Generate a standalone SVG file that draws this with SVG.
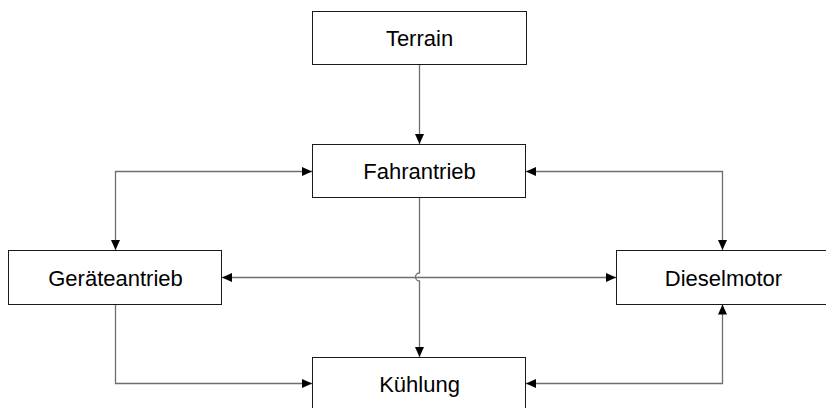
<svg xmlns="http://www.w3.org/2000/svg" width="826" height="408" viewBox="0 0 826 408">
  <style>
    .box { fill: #ffffff; stroke: #1a1a1a; stroke-width: 1; }
    .label { font-family: "Liberation Sans", Arial, sans-serif; font-size: 22px; fill: #000000; text-anchor: middle; }
    .wire { fill: none; stroke: #6e6e6e; stroke-width: 1.3; }
  </style>
  <defs>
    <marker id="head" viewBox="0 0 10 10" refX="10" refY="5" markerWidth="10" markerHeight="10" markerUnits="userSpaceOnUse" orient="auto-start-reverse">
      <path d="M0,0.5 L10,5 L0,9.5 Z" fill="#000000"/>
    </marker>
  </defs>
  <rect width="826" height="408" fill="#ffffff"/>

  <g id="connectors">
    <!-- Terrain to Fahrantrieb -->
    <path class="wire" d="M419.5,64.5 V144" marker-end="url(#head)"/>
    <!-- Fahrantrieb to Kühlung, hopping over the horizontal link -->
    <path class="wire" d="M419.5,197.5 V273 A4,4 0 0 0 419.5,281 V357" marker-end="url(#head)"/>
    <!-- Geräteantrieb and Fahrantrieb -->
    <path class="wire" d="M115.5,250 V171.5 H312" marker-start="url(#head)" marker-end="url(#head)"/>
    <!-- Fahrantrieb and Dieselmotor -->
    <path class="wire" d="M526,171.5 H722.5 V250" marker-start="url(#head)" marker-end="url(#head)"/>
    <!-- Geräteantrieb and Dieselmotor -->
    <path class="wire" d="M222,277.5 H616" marker-start="url(#head)" marker-end="url(#head)"/>
    <!-- Geräteantrieb to Kühlung -->
    <path class="wire" d="M115.5,304.5 V383.5 H312" marker-end="url(#head)"/>
    <!-- Dieselmotor and Kühlung -->
    <path class="wire" d="M722.5,304.5 V383.5 H526" marker-start="url(#head)" marker-end="url(#head)"/>
  </g>

  <g id="terrain">
    <rect class="box" x="312.5" y="11.5" width="214" height="53"/>
    <text class="label" x="419.5" y="45.5">Terrain</text>
  </g>
  <g id="fahrantrieb">
    <rect class="box" x="312.5" y="144.5" width="213" height="53"/>
    <text class="label" x="419.5" y="178.5">Fahrantrieb</text>
  </g>
  <g id="geraeteantrieb">
    <rect class="box" x="8.5" y="250.5" width="213" height="54"/>
    <text class="label" x="115.5" y="285.5">Geräteantrieb</text>
  </g>
  <g id="dieselmotor">
    <rect class="box" x="616.5" y="250.5" width="215" height="54"/>
    <text class="label" x="723.5" y="285.5">Dieselmotor</text>
  </g>
  <g id="kuehlung">
    <rect class="box" x="312.5" y="357.5" width="213" height="60"/>
    <text class="label" x="419.5" y="391.5">Kühlung</text>
  </g>
</svg>
